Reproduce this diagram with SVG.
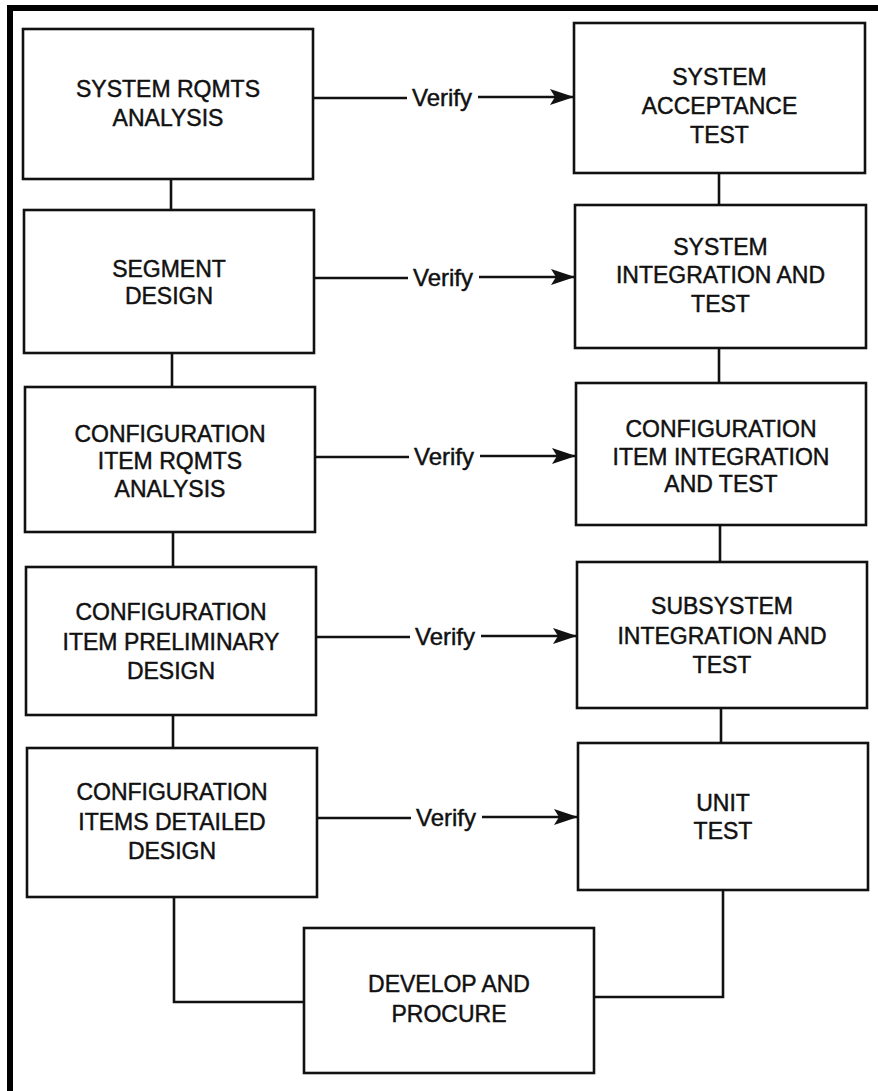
<svg xmlns="http://www.w3.org/2000/svg" width="878" height="1091" viewBox="0 0 878 1091">
<style>
.box{fill:#fff;stroke:#111;stroke-width:2.6}
.ln{fill:none;stroke:#111;stroke-width:2.6}
.t{font-family:"Liberation Sans",Arial,sans-serif;font-size:23px;fill:#111;stroke:#111;stroke-width:0.45;text-anchor:middle}
.v{font-family:"Liberation Sans",Arial,sans-serif;font-size:24px;fill:#111;stroke:#111;stroke-width:0.45;text-anchor:middle}
</style>
<defs>
<marker id="ah" markerUnits="userSpaceOnUse" markerWidth="26" markerHeight="18" refX="24" refY="9" orient="auto">
<path d="M24,9 L0,1 L5,9 L0,17 Z" fill="#111"/>
</marker>
</defs>
<rect x="0" y="0" width="878" height="1091" fill="#fff"/>
<g id="frame">
<rect x="7" y="5" width="871" height="6" fill="#000"/>
<rect x="7" y="5" width="6" height="1086" fill="#000"/>
</g>
<g id="connectors">
<line class="ln" x1="171" y1="179" x2="171" y2="210"/>
<line class="ln" x1="172" y1="353" x2="172" y2="387"/>
<line class="ln" x1="173" y1="532" x2="173" y2="567"/>
<line class="ln" x1="173" y1="715" x2="173" y2="748"/>
<polyline class="ln" points="174,897 174,1002 304,1002"/>
<line class="ln" x1="719" y1="173" x2="719" y2="205"/>
<line class="ln" x1="719" y1="348" x2="719" y2="383"/>
<line class="ln" x1="720" y1="525" x2="720" y2="562"/>
<line class="ln" x1="721" y1="708" x2="721" y2="743"/>
<polyline class="ln" points="723,890 723,997 594,997"/>
<line class="ln" x1="313" y1="98" x2="407" y2="98"/>
<line class="ln" x1="478" y1="97" x2="574" y2="97" marker-end="url(#ah)"/>
<text class="v" x="442" y="106">Verify</text>
<line class="ln" x1="314" y1="278" x2="408" y2="278"/>
<line class="ln" x1="479" y1="277" x2="575" y2="277" marker-end="url(#ah)"/>
<text class="v" x="443" y="286">Verify</text>
<line class="ln" x1="315" y1="457" x2="409" y2="457"/>
<line class="ln" x1="480" y1="456" x2="576" y2="456" marker-end="url(#ah)"/>
<text class="v" x="444" y="465">Verify</text>
<line class="ln" x1="316" y1="637" x2="410" y2="637"/>
<line class="ln" x1="481" y1="636" x2="577" y2="636" marker-end="url(#ah)"/>
<text class="v" x="445" y="645">Verify</text>
<line class="ln" x1="317" y1="818" x2="411" y2="818"/>
<line class="ln" x1="482" y1="817" x2="578" y2="817" marker-end="url(#ah)"/>
<text class="v" x="446" y="826">Verify</text>
</g>
<g id="n-sys-rqmts">
<rect class="box" x="23" y="29" width="290" height="150"/>
<text class="t" x="168" y="97">SYSTEM RQMTS</text>
<text class="t" x="168" y="126">ANALYSIS</text>
</g>
<g id="n-segment">
<rect class="box" x="24" y="210" width="290" height="143"/>
<text class="t" x="169" y="277">SEGMENT</text>
<text class="t" x="169" y="304">DESIGN</text>
</g>
<g id="n-ci-rqmts">
<rect class="box" x="25" y="387" width="290" height="145"/>
<text class="t" x="170" y="442">CONFIGURATION</text>
<text class="t" x="170" y="469">ITEM RQMTS</text>
<text class="t" x="170" y="497">ANALYSIS</text>
</g>
<g id="n-ci-prelim">
<rect class="box" x="26" y="567" width="290" height="148"/>
<text class="t" x="171" y="620">CONFIGURATION</text>
<text class="t" x="171" y="650">ITEM PRELIMINARY</text>
<text class="t" x="171" y="679">DESIGN</text>
</g>
<g id="n-ci-detailed">
<rect class="box" x="27" y="748" width="290" height="149"/>
<text class="t" x="172" y="800">CONFIGURATION</text>
<text class="t" x="172" y="830">ITEMS DETAILED</text>
<text class="t" x="172" y="859">DESIGN</text>
</g>
<g id="n-sys-accept">
<rect class="box" x="574" y="23" width="291" height="150"/>
<text class="t" x="719.5" y="85">SYSTEM</text>
<text class="t" x="719.5" y="114">ACCEPTANCE</text>
<text class="t" x="719.5" y="143">TEST</text>
</g>
<g id="n-sys-int">
<rect class="box" x="575" y="205" width="291" height="143"/>
<text class="t" x="720.5" y="255">SYSTEM</text>
<text class="t" x="720.5" y="283">INTEGRATION AND</text>
<text class="t" x="720.5" y="312">TEST</text>
</g>
<g id="n-ci-int">
<rect class="box" x="576" y="383" width="290" height="142"/>
<text class="t" x="721" y="437">CONFIGURATION</text>
<text class="t" x="721" y="465">ITEM INTEGRATION</text>
<text class="t" x="721" y="492">AND TEST</text>
</g>
<g id="n-subsys-int">
<rect class="box" x="577" y="562" width="290" height="146"/>
<text class="t" x="722" y="614">SUBSYSTEM</text>
<text class="t" x="722" y="644">INTEGRATION AND</text>
<text class="t" x="722" y="673">TEST</text>
</g>
<g id="n-unit-test">
<rect class="box" x="578" y="743" width="290" height="147"/>
<text class="t" x="723" y="811">UNIT</text>
<text class="t" x="723" y="839">TEST</text>
</g>
<g id="n-develop">
<rect class="box" x="304" y="928" width="290" height="145"/>
<text class="t" x="449" y="992">DEVELOP AND</text>
<text class="t" x="449" y="1022">PROCURE</text>
</g>
</svg>
